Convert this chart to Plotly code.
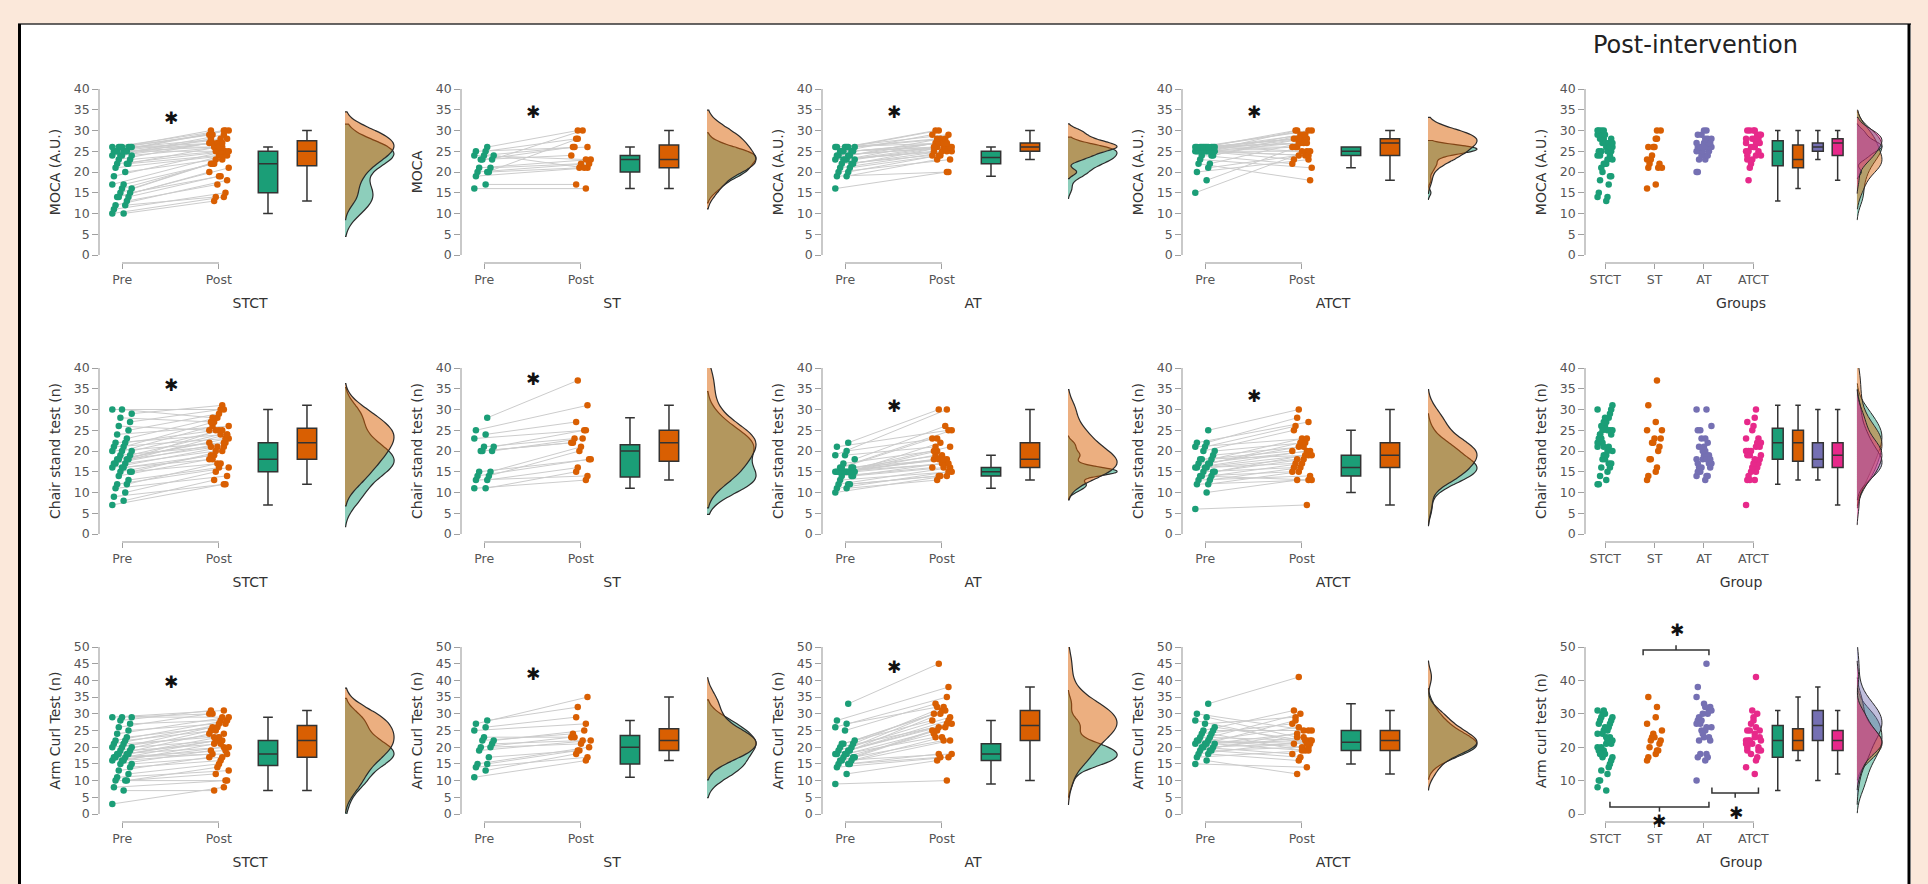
import plotly.graph_objects as go

# ------------------------------------------------------------------ data
GROUPS = ["STCT", "ST", "AT", "ATCT"]
PHASES = ["Pre", "Post"]

# MOCA (paired, subject order)
moca_stct_pre = [10,10,11,12,12,13,14,14,14,15,15,16,16,17,17,19,20,21,22,22,22,23,23,24,24,24,24,25,25,25,25,25,25,26,26,26,26,26,26,26]
moca_stct_post = [14,13,15,14,18,17,21,19,20,19,22,23,22,24,22,25,23,24,26,25,24,27,25,28,26,27,29,26,30,25,28,27,30,26,29,28,30,27,29,30]
moca_st_pre = [16,17,19,20,20,20,21,21,23,23,23,24,24,24,25,25,26]
moca_st_post = [16,17,21,28,22,21,23,22,24,30,26,21,26,23,28,26,30]
moca_at_pre = [16,19,19,20,20,21,21,22,22,22,23,23,23,23,23,24,24,24,24,25,25,25,25,25,26,26,26,26,26,26]
moca_at_post = [20,23,20,24,23,24,25,25,24,26,25,26,27,25,26,26,27,26,28,26,27,29,27,26,28,30,27,28,29,30]
moca_atct_pre = [15,18,20,21,22,22,23,24,24,24,25,25,25,25,25,25,25,25,25,26,26,26,26,26,26,26,26,26,26,26]
moca_atct_post = [25,26,23,24,18,27,21,28,22,29,23,24,26,28,30,24,27,25,29,30,25,26,27,28,29,30,27,28,30,28]

# Chair stand test (n)
chair_stct_pre = [7,8,9,10,11,12,12,13,14,15,15,15,16,16,16,17,17,17,18,18,18,18,19,19,20,20,20,21,21,22,22,23,24,25,26,27,28,29,30,30]
chair_stct_post = [12,13,12,15,14,17,16,16,18,17,19,20,18,21,19,22,20,24,21,23,25,22,24,21,25,26,22,27,23,25,24,28,26,29,25,30,27,31,28,30]
chair_st_pre = [11,11,13,13,14,14,15,15,20,20,20,21,21,23,24,25,28]
chair_st_post = [13,15,14,16,18,20,18,21,22,23,22,25,23,25,27,31,37]
chair_at_pre = [10,11,11,12,12,12,13,14,14,14,15,15,15,15,15,15,15,15,15,16,16,16,16,17,18,19,19,20,21,22]
chair_at_post = [14,13,15,14,16,14,15,17,16,16,18,17,19,18,20,17,18,21,22,25,19,23,18,20,26,21,30,23,25,30]
chair_atct_pre = [6,10,12,12,13,13,14,14,14,15,15,15,16,16,16,16,17,17,17,18,18,18,19,20,20,21,21,22,22,25]
chair_atct_post = [7,13,13,15,14,16,13,17,15,18,16,19,17,20,18,19,21,20,22,19,23,20,21,25,22,26,23,28,27,30]

# Arm curl test (n)
arm_stct_pre = [3,7,8,10,10,10,11,12,13,14,15,15,16,16,16,17,17,17,18,18,18,18,19,19,20,20,20,21,21,22,22,23,24,25,26,27,28,29,29,29]
arm_stct_post = [8,7,10,12,10,14,13,15,17,16,19,17,18,20,21,19,22,18,22,20,23,24,21,25,22,26,24,23,27,25,28,26,29,27,30,28,31,29,30,31]
arm_st_pre = [11,13,14,15,15,17,19,20,20,21,22,22,23,25,26,27,28]
arm_st_post = [16,18,17,19,20,19,22,21,23,22,24,25,23,27,29,35,32]
arm_at_pre = [9,12,14,15,15,15,16,16,16,17,17,17,18,18,18,18,19,19,19,20,20,21,21,21,22,25,26,27,28,33]
arm_at_post = [10,16,17,18,22,17,18,23,25,22,24,26,23,27,25,28,26,29,30,27,31,28,32,30,31,33,35,32,38,45]
arm_atct_pre = [15,16,17,18,18,19,19,19,20,20,20,21,21,21,21,22,22,22,23,23,24,24,25,25,26,27,28,29,30,33]
arm_atct_post = [14,12,19,16,22,17,25,20,18,23,21,19,28,22,24,20,26,21,30,22,19,27,25,31,22,29,21,23,25,41]

# y titles per row (cols 1-4, then post-intervention panel)
moca_titles = ["MOCA (A.U.)", "MOCA", "MOCA (A.U.)", "MOCA (A.U.)", "MOCA (A.U.)"]
chair_titles = ["Chair stand test (n)"] * 5
arm_titles = ["Arm Curl Test (n)"] * 4 + ["Arm curl test (n)"]
post_xtitles = ["Groups", "Group", "Group"]

# significance star heights (pre vs post), None = no star
moca_star = [33, 34.4, 34.4, 34.4]
chair_star = [35.9, 37.3, 30.8, 33.2]
arm_star = [39.5, 41.9, 44.0, None]

# ------------------------------------------------------------------ style
W, H = 1928, 884
GREEN, ORANGE, PURPLE, PINK = "#1b9e77", "#d95f02", "#7570b3", "#e7298a"
GROUP_COLORS = [GREEN, ORANGE, PURPLE, PINK]
PHASE_COLORS = [GREEN, ORANGE]
PEACH = "#fbe8da"
AXC = "#c9c9c9"
TICKC = "#a0a0a0"
FONT = "DejaVu Sans"
TICKFONT = dict(family=FONT, size=12.5, color="#555555")
TITLEFONT = dict(family=FONT, size=14, color="#333333")
STARFONT = dict(family=FONT, size=17, color="#111111")
STAR = "\u2731"


def rgba(hexc, a):
    h = hexc.lstrip("#")
    return "rgba(%d,%d,%d,%.2f)" % (int(h[0:2], 16), int(h[2:4], 16), int(h[4:6], 16), a)


def px(x):
    return x / W


def py(y):
    return 1 - y / H


def ref(prefix, n):
    return prefix if n == 1 else prefix + str(n)


def jit(i, amp):
    return ((i * 7) % 13 - 6) / 6.0 * amp


ROW_PX = [(89, 255), (368, 534), (647, 814)]
COL_AX = [100, 462, 823, 1183]
COL5_AX = 1586

rows = [
    dict(pre=[moca_stct_pre, moca_st_pre, moca_at_pre, moca_atct_pre],
         post=[moca_stct_post, moca_st_post, moca_at_post, moca_atct_post],
         titles=moca_titles, stars=moca_star, ymax=40, dtick=5, dtick5=5),
    dict(pre=[chair_stct_pre, chair_st_pre, chair_at_pre, chair_atct_pre],
         post=[chair_stct_post, chair_st_post, chair_at_post, chair_atct_post],
         titles=chair_titles, stars=chair_star, ymax=40, dtick=5, dtick5=5),
    dict(pre=[arm_stct_pre, arm_st_pre, arm_at_pre, arm_atct_pre],
         post=[arm_stct_post, arm_st_post, arm_at_post, arm_atct_post],
         titles=arm_titles, stars=arm_star, ymax=50, dtick=5, dtick5=10),
]

fig = go.Figure()
layout = {}
annotations = []
shapes = []

NOAX = dict(showgrid=False, zeroline=False, automargin=False)


def add_yaxis(n, bot, top, ymax, dtick, title, anchor_n):
    layout[ref("yaxis", n)] = dict(
        domain=[py(bot), py(top)], range=[0, ymax], anchor=ref("x", anchor_n),
        showline=True, linecolor=AXC, linewidth=1.5, ticks="outside", ticklen=6,
        tickcolor=TICKC, tickwidth=1, tick0=0, dtick=dtick, tickfont=TICKFONT,
        title=dict(text=title, font=TITLEFONT, standoff=10), **NOAX)


for r, row in enumerate(rows):
    top, bot = ROW_PX[r]
    # ---------------- paired panels
    for c in range(4):
        k = r * 5 + c
        nb, na, ny = k + 1, k + 16, k + 1
        ax = COL_AX[c]
        unit, off, wd = 97.0, 22.0, 300.0
        pre, post = row["pre"][c], row["post"][c]
        xr, yr = ref("x", nb), ref("y", ny)

        add_yaxis(ny, bot, top, row["ymax"], row["dtick"], row["titles"][c], nb)
        layout[ref("xaxis", nb)] = dict(
            domain=[px(ax), px(ax + wd)], range=[-off / unit, (wd - off) / unit],
            type="linear", anchor="free", position=py(bot + 8), showline=False,
            showticklabels=False, ticks="", title=dict(text=GROUPS[c], font=TITLEFONT, standoff=35),
            **NOAX)
        layout[ref("xaxis", na)] = dict(
            domain=[px(ax + off), px(ax + off + unit)], range=[-0.002, 1.002],
            type="linear", anchor="free", position=py(bot + 8), showline=True,
            linecolor=AXC, linewidth=1.5, ticks="outside", ticklen=5, tickcolor=TICKC,
            tickvals=[0, 1], ticktext=PHASES, tickfont=TICKFONT, **NOAX)

        # paired lines
        lx, ly = [], []
        for i, (a, b) in enumerate(zip(pre, post)):
            lx += [0 + jit(i, 0.1), 1 + jit(i + 5, 0.1), None]
            ly += [a, b, None]
        fig.add_trace(go.Scatter(x=lx, y=ly, mode="lines", xaxis=xr, yaxis=yr,
                                 line=dict(color="#cccccc", width=1), hoverinfo="skip"))
        fig.add_trace(go.Scatter(x=[0 + jit(i, 0.1) for i in range(len(pre))], y=pre,
                                 mode="markers", xaxis=xr, yaxis=yr, cliponaxis=False,
                                 marker=dict(color=GREEN, size=6.5)))
        fig.add_trace(go.Scatter(x=[1 + jit(i + 5, 0.1) for i in range(len(post))], y=post,
                                 mode="markers", xaxis=xr, yaxis=yr, cliponaxis=False,
                                 marker=dict(color=ORANGE, size=6.5)))
        for j, (vals, pos) in enumerate([(pre, 1.505), (post, 1.907)]):
            fig.add_trace(go.Box(y=vals, x0=pos, width=0.2, xaxis=xr, yaxis=yr,
                                 fillcolor=PHASE_COLORS[j], line=dict(color="#333333", width=1.5),
                                 whiskerwidth=0.5, boxpoints="outliers",
                                 marker=dict(opacity=0, size=1), quartilemethod="linear",
                                 hoverinfo="skip"))
        for j, vals in enumerate([pre, post]):
            fig.add_trace(go.Violin(y=vals, x0=2.299, width=1.01, side="positive",
                                    xaxis=xr, yaxis=yr, points=False,
                                    fillcolor=rgba(PHASE_COLORS[j], 0.5),
                                    line=dict(color="#2a2a2a", width=1.2),
                                    scalegroup="p%d" % k, scalemode="width",
                                    spanmode="soft", hoverinfo="skip"))
        fig.add_trace(go.Scatter(x=[None], y=[None], xaxis=ref("x", na), yaxis=yr,
                                 mode="markers", hoverinfo="skip"))
        if row["stars"][c] is not None:
            annotations.append(dict(x=0.5, y=row["stars"][c], xref=xr, yref=yr, text=STAR,
                                    showarrow=False, font=STARFONT, yanchor="middle"))

    # ---------------- post-intervention panel
    k = r * 5 + 4
    nb, na, ny = k + 1, k + 16, k + 1
    ax = COL5_AX
    unit, off, wd = 49.5, 19.0, 310.0
    xr, yr = ref("x", nb), ref("y", ny)
    add_yaxis(ny, bot, top, row["ymax"], row["dtick5"], row["titles"][4], nb)
    layout[ref("xaxis", nb)] = dict(
        domain=[px(ax), px(ax + wd)], range=[-off / unit, (wd - off) / unit],
        type="linear", anchor="free", position=py(bot + 8), showline=False,
        showticklabels=False, ticks="", title=dict(text=post_xtitles[r], font=TITLEFONT, standoff=35),
        **NOAX)
    layout[ref("xaxis", na)] = dict(
        domain=[px(ax + off), px(ax + off + 3 * unit)], range=[-0.004, 3.004],
        type="linear", anchor="free", position=py(bot + 8), showline=True,
        linecolor=AXC, linewidth=1.5, ticks="outside", ticklen=5, tickcolor=TICKC,
        tickvals=[0, 1, 2, 3], ticktext=GROUPS, tickfont=TICKFONT, **NOAX)
    for g in range(4):
        vals = row["post"][g]
        fig.add_trace(go.Scatter(x=[g + jit(i, 0.15) for i in range(len(vals))], y=vals,
                                 mode="markers", xaxis=xr, yaxis=yr, cliponaxis=False,
                                 marker=dict(color=GROUP_COLORS[g], size=6.5)))
    for g, pos in enumerate([3.49, 3.9, 4.3, 4.7]):
        fig.add_trace(go.Box(y=row["post"][g], x0=pos, width=0.22, xaxis=xr, yaxis=yr,
                             fillcolor=GROUP_COLORS[g], line=dict(color="#333333", width=1.5),
                             whiskerwidth=0.5, boxpoints="outliers",
                             marker=dict(opacity=0, size=1), quartilemethod="linear",
                             hoverinfo="skip"))
    for g in range(4):
        fig.add_trace(go.Violin(y=row["post"][g], x0=5.09, width=1.01, side="positive",
                                xaxis=xr, yaxis=yr, points=False,
                                fillcolor=rgba(GROUP_COLORS[g], 0.45),
                                line=dict(color="#2a2a2a", width=1.0),
                                scalegroup="g%d" % k, scalemode="width",
                                spanmode="soft", hoverinfo="skip"))
    fig.add_trace(go.Scatter(x=[None], y=[None], xaxis=ref("x", na), yaxis=yr,
                             mode="markers", hoverinfo="skip"))

# significance brackets on arm curl post-intervention panel (between groups)
k5 = 2 * 5 + 4
bx = ref("x", k5 + 1)
top5, bot5 = ROW_PX[2]
ymax5 = rows[2]["ymax"]


def yp(v):
    # data value -> paper y on the arm-curl post-intervention panel
    return py(bot5) + v / ymax5 * (py(top5) - py(bot5))


brackets = [  # (x_left, x_right, y_line, tip_dir, star_x, star_y)
    (0.77, 2.10, 49.1, -1, 1.45, 55.0),
    (0.10, 2.10, 2.1, +1, 1.10, -2.2),
    (2.16, 3.10, 6.3, +1, 2.65, 0.4),
]
for xl, xrr, yl, d, sx, sy in brackets:
    path = "M %f,%f L %f,%f L %f,%f L %f,%f" % (xl, yp(yl + d * 1.6), xl, yp(yl), xrr, yp(yl),
                                                xrr, yp(yl + d * 1.6))
    shapes.append(dict(type="path", path=path, xref=bx, yref="paper",
                       line=dict(color="#333333", width=1.5)))
    xm = (xl + xrr) / 2
    shapes.append(dict(type="line", x0=xm, x1=xm, y0=yp(yl), y1=yp(yl - d * 1.4), xref=bx,
                       yref="paper", line=dict(color="#333333", width=1.5)))
    annotations.append(dict(x=sx, y=yp(sy), xref=bx, yref="paper", text=STAR, showarrow=False,
                            font=STARFONT, yanchor="middle"))

annotations.append(dict(x=px(1695), y=py(45), xref="paper", yref="paper", text="Post-intervention",
                        showarrow=False, font=dict(family=FONT, size=24, color="#222222"),
                        xanchor="center", yanchor="middle"))

# page frame
shapes = [
    dict(type="rect", xref="paper", yref="paper", x0=px(18), x1=px(1911), y0=0, y1=py(24),
         fillcolor="white", line=dict(width=0), layer="below"),
    dict(type="line", xref="paper", yref="paper", x0=px(18), x1=px(1911), y0=py(24), y1=py(24),
         line=dict(color="#333333", width=1.5)),
    dict(type="line", xref="paper", yref="paper", x0=px(19.5), x1=px(19.5), y0=0, y1=py(24),
         line=dict(color="#000000", width=3)),
    dict(type="line", xref="paper", yref="paper", x0=px(1909), x1=px(1909), y0=0, y1=py(24),
         line=dict(color="#000000", width=3)),
] + shapes

fig.update_layout(
    template="none",
    width=W, height=H, margin=dict(l=0, r=0, t=0, b=0, autoexpand=False),
    paper_bgcolor=PEACH, plot_bgcolor="rgba(0,0,0,0)",
    showlegend=False, boxmode="overlay", violinmode="overlay",
    font=dict(family=FONT), annotations=annotations, shapes=shapes, **layout)

fig.write_html("out.html", config={"displayModeBar": False},
               post_script="document.body.style.margin='0';")
